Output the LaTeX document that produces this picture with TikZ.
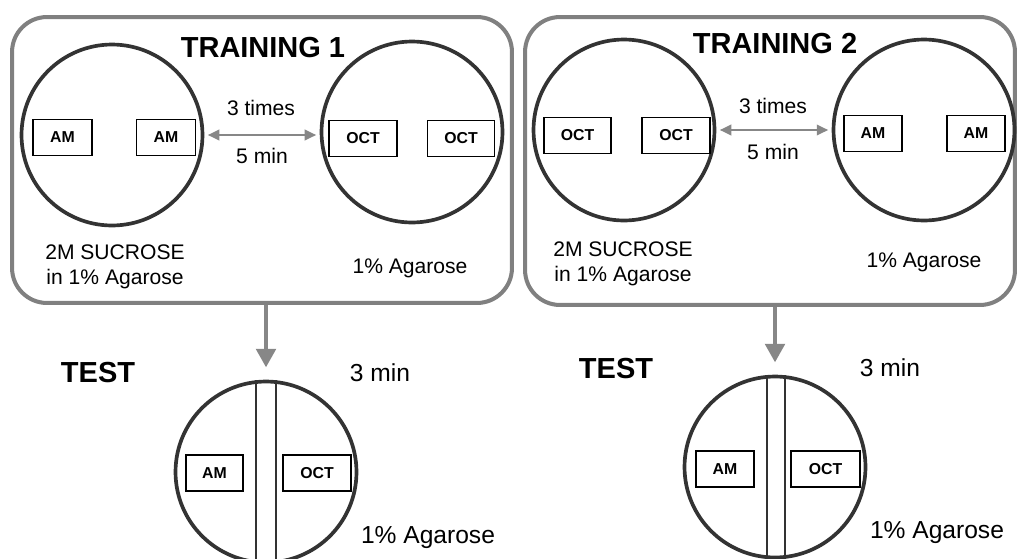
\documentclass[tikz,border=0pt]{standalone}
\usepackage{fontspec}
\setmainfont{Liberation Sans}
\usetikzlibrary{arrows.meta}
\usetikzlibrary{positioning}
\definecolor{framegray}{rgb}{0.5, 0.5, 0.5}
\definecolor{dishgray}{rgb}{0.2, 0.2, 0.2}
\definecolor{arrowgray}{rgb}{0.53, 0.53, 0.53}
\tikzset{dish/.style = {draw=dishgray, circle, line width=2.1pt, minimum size=3.62cm, inner sep=0pt},
         odour/.style = {draw, line width=1.1pt, minimum height=0.72cm, inner sep=0pt,
                         font=\fontsize{9}{10}\selectfont\bfseries},
         title/.style = {font=\fontsize{16.5}{19}\selectfont\bfseries},
         note/.style = {font=\fontsize{12}{14.2}\selectfont},
         bignote/.style = {font=\fontsize{14}{16}\selectfont},
         panel/.style = {draw=framegray, line width=2.3pt, rounded corners=0.7cm},
         swap/.style = {{Triangle[length=6.5pt, width=6pt]}-{Triangle[length=6.5pt, width=6pt]},
                        arrowgray, line width=1.1pt, shorten <=2pt, shorten >=2pt},
         flow/.style = {-{Triangle[length=10.5pt, width=11pt]}, arrowgray, line width=2.3pt, shorten >=7pt},
         divider/.style = {dishgray, line width=1.2pt}}

\begin{document}
\begin{tikzpicture}[x=0.02cm, y=-0.02cm]
  \useasboundingbox (0, 0) rectangle (1017, 558);

  % training 1
  \node [panel, minimum width=10cm, minimum height=5.72cm] (train1) at (262, 160) {};
  \node [title, anchor=base] (title1) at (263, 57) {TRAINING 1};
  \node [dish] (sucrose1) at (112, 135) {};
  \node [dish] (plain1) at (412, 132) {};
  \node [odour, minimum width=1.18cm] (am1a) at (62.5, 137.5) {AM};
  \node [odour, minimum width=1.18cm] (am1b) at (166, 137.5) {AM};
  \node [odour, minimum width=1.36cm] (oct1a) at (363, 138.5) {OCT};
  \node [odour, minimum width=1.34cm] (oct1b) at (461, 138.5) {OCT};
  \draw [swap] (sucrose1.east) -- (sucrose1.east -| plain1.west);
  \node [note, anchor=base] (times1) at (261, 115) {3 times};
  \node [note, anchor=base] (dur1) at (262, 163) {5 min};
  \node [note, align=center] (medium1) at (115, 267) {2M SUCROSE\\in 1\% Agarose};
  \node [note, anchor=base] (agar1) at (410, 273) {1\% Agarose};

  % training 2
  \node [panel, minimum width=9.8cm, minimum height=5.76cm] (train2) at (770, 161) {};
  \node [title, anchor=base] (title2) at (775, 53) {TRAINING 2};
  \node [dish] (sucrose2) at (624, 130) {};
  \node [dish] (plain2) at (924, 130) {};
  \node [odour, minimum width=1.34cm] (oct2a) at (577.5, 135.5) {OCT};
  \node [odour, minimum width=1.36cm] (oct2b) at (676, 135.5) {OCT};
  \node [odour, minimum width=1.16cm] (am2a) at (873, 133.5) {AM};
  \node [odour, minimum width=1.16cm] (am2b) at (976, 133.5) {AM};
  \draw [swap] (sucrose2.east) -- (sucrose2.east -| plain2.west);
  \node [note, anchor=base] (times2) at (773, 113) {3 times};
  \node [note, anchor=base] (dur2) at (773, 159) {5 min};
  \node [note, align=center] (medium2) at (623, 264) {2M SUCROSE\\in 1\% Agarose};
  \node [note, anchor=base] (agar2) at (924, 267) {1\% Agarose};

  % tests
  \node [title, anchor=base] (test1) at (98, 382) {TEST};
  \node [bignote, anchor=base] (time1) at (380, 381) {3 min};
  \node [dish] (choice1) at (266, 472) {};
  \draw [divider] (choice1.96) -- (choice1.264) (choice1.84) -- (choice1.276);
  \node [odour, minimum width=1.14cm] (tam1) at (214.5, 473) {AM};
  \node [odour, minimum width=1.36cm] (toct1) at (317, 473) {OCT};
  \node [bignote, anchor=base] (tagar1) at (428, 543) {1\% Agarose};
  \draw [flow] (train1.south -| choice1.north) -- (choice1.north);

  \node [title, anchor=base] (test2) at (616, 378) {TEST};
  \node [bignote, anchor=base] (time2) at (890, 376) {3 min};
  \node [dish] (choice2) at (775, 467) {};
  \draw [divider] (choice2.95) -- (choice2.265) (choice2.84) -- (choice2.276);
  \node [odour, minimum width=1.16cm] (tam2) at (725, 469) {AM};
  \node [odour, minimum width=1.38cm] (toct2) at (825.5, 469) {OCT};
  \node [bignote, anchor=base] (tagar2) at (937, 538) {1\% Agarose};
  \draw [flow] (train2.south -| choice2.north) -- (choice2.north);
\end{tikzpicture}
\end{document}
